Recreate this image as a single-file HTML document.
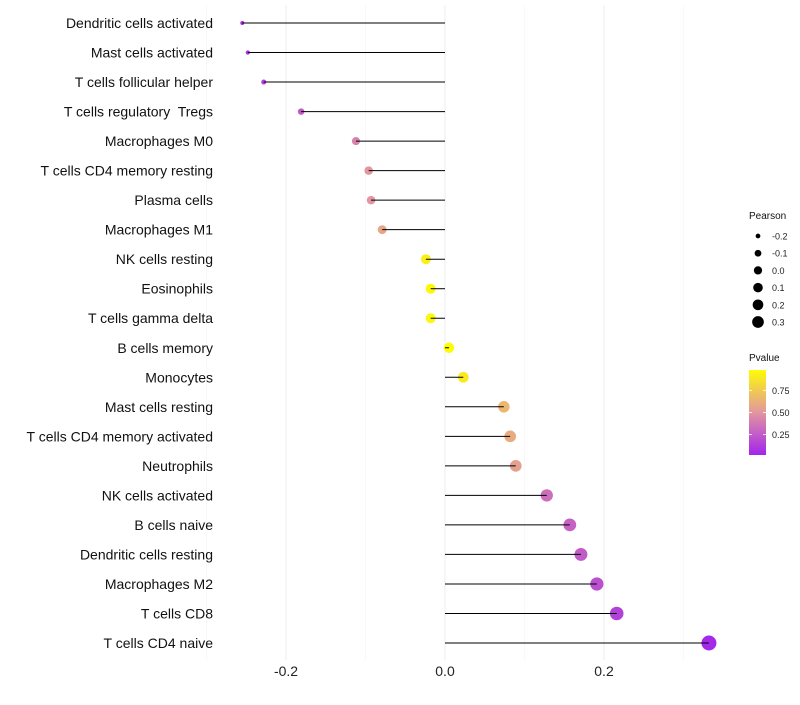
<!DOCTYPE html>
<html><head><meta charset="utf-8"><style>
body{margin:0;background:#fff;font-family:"Liberation Sans",sans-serif}
text{white-space:pre}
</style></head><body>
<svg id="c" width="800" height="700" xmlns="http://www.w3.org/2000/svg"></svg>
<script>
const categories=["Dendritic cells activated","Mast cells activated","T cells follicular helper","T cells regulatory  Tregs","Macrophages M0","T cells CD4 memory resting","Plasma cells","Macrophages M1","NK cells resting","Eosinophils","T cells gamma delta","B cells memory","Monocytes","Mast cells resting","T cells CD4 memory activated","Neutrophils","NK cells activated","B cells naive","Dendritic cells resting","Macrophages M2","T cells CD8","T cells CD4 naive"];
const pearson=[-0.255,-0.248,-0.228,-0.181,-0.112,-0.096,-0.093,-0.079,-0.024,-0.018,-0.018,0.005,0.023,0.074,0.082,0.089,0.128,0.157,0.171,0.191,0.216,0.332];
const pvalue=[0.06,0.08,0.13,0.25,0.42,0.5,0.5,0.58,0.93,0.96,0.96,0.99,0.9,0.65,0.6,0.55,0.33,0.28,0.25,0.2,0.14,0.04];
const xTicks=[-0.2,0.0,0.2];
const xTickLabels=["-0.2","0.0","0.2"];
const sizeLegend=[-0.2,-0.1,0.0,0.1,0.2,0.3];
const colorTicks=[0.25,0.5,0.75];
const NS="http://www.w3.org/2000/svg";
const svg=document.getElementById('c');
const X=v=>445+v*795;
const Y=i=>23+i*(620/21);
const R=v=>Math.sqrt(Math.max(2,4+(v+0.255)*89));
function col(p){
  const a=[160,32,240],m=[226,150,160],b=[255,255,0];
  let t,c1,c2;
  if(p<0.5){t=p/0.5;c1=a;c2=m}else{t=(p-0.5)/0.5;c1=m;c2=b}
  return 'rgb('+c1.map((v,k)=>Math.round(v+(c2[k]-v)*t)).join(',')+')';
}
function el(tag,attrs,txt){const e=document.createElementNS(NS,tag);for(const k in attrs)e.setAttribute(k,attrs[k]);if(txt!==undefined)e.textContent=txt;svg.appendChild(e);return e;}
[-0.3,-0.1,0.1,0.3].forEach(v=>{const g=el('line',{x1:X(v),x2:X(v),y1:5,y2:660,stroke:'#f4f4f4','stroke-width':0.6});

});
xTicks.forEach((v,i)=>{const g=el('line',{x1:X(v),x2:X(v),y1:5,y2:660,stroke:'#ededed','stroke-width':1});


const t=el('text',{x:X(v),y:676,'font-size':14,'text-anchor':'middle',fill:'#222'},xTickLabels[i]);

});
categories.forEach((c,i)=>{
  const y=Y(i);
  const t=el('text',{x:213,y:y+5,'font-size':14,'text-anchor':'end',fill:'#111'},c);
  
  
  const d=el('circle',{cx:X(pearson[i]),cy:y,r:R(pearson[i]),fill:col(pvalue[i])});
  
  
  const l=el('line',{x1:X(0),x2:X(pearson[i]),y1:y,y2:y,stroke:'#000','stroke-width':1});
  
  
});
let t=el('text',{x:749,y:219,'font-size':10,fill:'#111'},'Pearson');


sizeLegend.forEach((v,i)=>{const y=236+i*17.2;
const c=el('circle',{cx:758,cy:y,r:R(v)*0.8,fill:'#000'});


const tt=el('text',{x:772,y:y+3.5,'font-size':9,fill:'#222'},v.toFixed(1));

});
t=el('text',{x:749,y:361,'font-size':10,fill:'#111'},'Pvalue');


const defs=el('defs',{});
const lg=document.createElementNS(NS,'linearGradient');lg.setAttribute('id','g');lg.setAttribute('x1','0');lg.setAttribute('y1','1');lg.setAttribute('x2','0');lg.setAttribute('y2','0');defs.appendChild(lg);
for(let k=0;k<=10;k++){const s=document.createElementNS(NS,'stop');const p=0.02+k*0.096;s.setAttribute('offset',k/10);s.setAttribute('stop-color',col(p));lg.appendChild(s);}
const bar=el('rect',{x:749,y:370,width:17,height:85,fill:'url(#g)'});


const PY=p=>455-(p-0.02)/0.96*85;
colorTicks.forEach(p=>{const y=PY(p);
el('line',{x1:749,x2:752,y1:y,y2:y,stroke:'#fff','stroke-width':0.8});
el('line',{x1:763,x2:766,y1:y,y2:y,stroke:'#fff','stroke-width':0.8});
const tt=el('text',{x:772,y:y+3.5,'font-size':9,fill:'#222'},p.toFixed(2));

});
</script>
</body></html>
